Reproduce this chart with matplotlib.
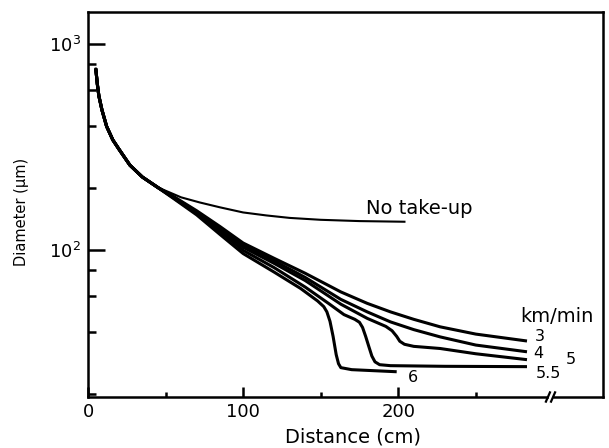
import matplotlib
matplotlib.use("Agg")
import matplotlib.pyplot as plt
from matplotlib.transforms import blended_transform_factory
from matplotlib.ticker import FixedLocator, NullFormatter

plt.rcParams['font.family'] = ['DejaVu Sans']
plt.rcParams['mathtext.fontset'] = 'dejavusans'

# Shared early part of all curves (distance cm, diameter um)
trunk_x = [5, 6, 7, 9, 12, 16, 20, 27, 35, 45]
trunk_y = [760, 640, 560, 478, 398, 342, 308, 258, 226, 201]

no_takeup_x = [52, 60, 72, 85, 100, 115, 130, 150, 175, 204]
no_takeup_y = [191, 180, 170, 161, 152, 147, 143, 140, 138, 137]

c3_x = [55, 70, 85, 100, 120, 140, 163, 180, 195, 210, 227, 250, 283]
c3_y = [182, 155, 130, 108, 91, 77, 62.5, 55, 50, 46, 42.3, 39, 36.1]

c4_x = [55, 70, 85, 100, 120, 140, 163, 180, 195, 210, 227, 250, 283]
c4_y = [181, 153, 128, 105.5, 88.5, 73.5, 57.5, 50, 44.7, 41, 37.8, 34.5, 32]

c5_x = [55, 70, 85, 100, 120, 140, 163, 180, 192, 196, 199, 201, 204, 210, 227, 250, 283]
c5_y = [180, 152, 126, 103, 86, 71, 54.5, 46.5, 42.5, 40.5, 38, 36, 34.8, 34, 33.2, 31.3, 29.3]

c55_x = [55, 70, 85, 100, 120, 140, 155, 165, 172, 175, 177, 179, 181, 183, 185, 188, 195, 230, 283]
c55_y = [179, 150, 123, 99.5, 82, 66, 55, 48.5, 46, 44.5, 42, 38, 34, 30.5, 28.6, 27.7, 27.4, 27.2, 27.1]

c6_x = [55, 70, 85, 100, 120, 137, 148, 152, 154, 156, 158, 160, 161.5, 163, 170, 199]
c6_y = [178, 148, 119, 96, 78, 65, 56.5, 53, 50, 45, 38, 31, 28, 26.8, 26.2, 25.6]

speed_labels = ["3", "4", "5", "5.5", "6"]
speed_label_x = [288, 287, 308, 288.5, 206.5]
speed_label_y = [38.0, 31.4, 29.2, 25.2, 24.0]

x_major = [0, 100, 200]
x_minor = [50, 150, 250]
y_major = [100, 1000]
y_major_labels = [r"$10^2$", r"$10^3$"]
y_minor = [20, 40, 60, 80, 200, 400, 600, 800]

W, H = 609, 448
fig = plt.figure(figsize=(W / 100, H / 100), dpi=100)
L, R, T, B = 88, 603, 12, 397
ax = fig.add_axes([L / W, 1 - B / H, (R - L) / W, (B - T) / H])
ax.set_yscale('log')
ax.set_xlim(0, 332)
ax.set_ylim(19.3, 1430)

lw = 2.2
for xs, ys in [(c3_x, c3_y), (c4_x, c4_y), (c5_x, c5_y), (c55_x, c55_y), (c6_x, c6_y)]:
    ax.plot(trunk_x + xs, trunk_y + ys, color='black', lw=lw, solid_capstyle='butt',
            solid_joinstyle='round')
ax.plot(trunk_x + no_takeup_x, trunk_y + no_takeup_y, color='black', lw=1.5)

for s in ax.spines.values():
    s.set_linewidth(1.8)

ax.xaxis.set_major_locator(FixedLocator(x_major))
ax.xaxis.set_minor_locator(FixedLocator(x_minor))
ax.set_xticklabels([str(v) for v in x_major])
ax.xaxis.set_minor_formatter(NullFormatter())
ax.yaxis.set_major_locator(FixedLocator(y_major))
ax.set_yticklabels(y_major_labels)
ax.yaxis.set_minor_locator(FixedLocator(y_minor))
ax.yaxis.set_minor_formatter(NullFormatter())

ax.tick_params(axis='x', which='major', direction='in', length=7, width=1.8, labelsize=13, pad=4)
ax.tick_params(axis='x', which='minor', direction='in', length=3.5, width=1.8)
ax.tick_params(axis='y', which='major', direction='in', length=12, width=1.8, labelsize=13, pad=5)
ax.tick_params(axis='y', which='minor', direction='in', length=6, width=1.8)
ax.tick_params(top=False, right=False, which='both')

fig.text(353 / W, 1 - 437 / H, "Distance (cm)", ha='center', va='center', fontsize=14)
fig.text(22 / W, 1 - 212 / H, "Diameter (\u00b5m)", ha='center', va='center', rotation=90, fontsize=10.5)

ax.text(179, 158, "No take-up", ha='left', va='center', fontsize=14)
ax.text(302.6, 47.3, "km/min", ha='center', va='center', fontsize=14)
for lab, lx, ly in zip(speed_labels, speed_label_x, speed_label_y):
    ax.text(lx, ly, lab, ha='left', va='center', fontsize=11.5)

# axis break marks on the bottom spine
tr = blended_transform_factory(ax.transData, ax.transAxes)
ax.add_patch(plt.Rectangle((297.2, -0.01), 2.0, 0.02, transform=tr, color='white', clip_on=False, zorder=5))
for bx in [296.5, 299.8]:
    ax.plot([bx - 1.3, bx + 1.3], [-0.012, 0.012], transform=tr, color='black', lw=1.6, clip_on=False, zorder=6)

fig.savefig("out.png", dpi=100)
